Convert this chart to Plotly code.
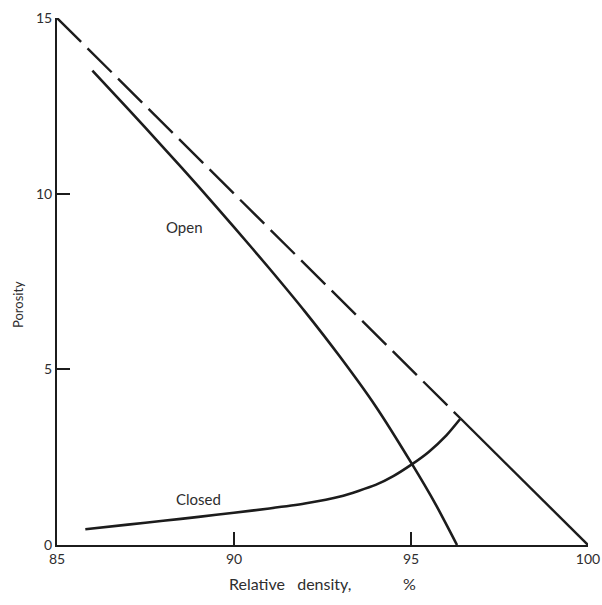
import plotly.graph_objects as go

# Relative density (%) vs porosity (%) for a sintered compact
open_x = [86.0, 87.0, 88.0, 89.0, 90.0, 91.0, 92.0, 93.0, 94.0, 95.0, 95.7, 96.3]
open_y = [13.5, 12.42, 11.32, 10.2, 9.05, 7.87, 6.65, 5.35, 3.95, 2.35, 1.15, 0.0]

closed_x = [85.8, 87.0, 88.0, 89.0, 90.0, 91.0, 92.0, 93.0, 94.0, 94.5, 95.0, 95.5, 96.0, 96.4]
closed_y = [0.45, 0.58, 0.69, 0.80, 0.92, 1.04, 1.18, 1.38, 1.71, 1.96, 2.28, 2.65, 3.12, 3.6]

# Total porosity = 100 - relative density
total_dashed_x = [85.0, 96.4]
total_dashed_y = [15.0, 3.6]
total_solid_x = [96.4, 100.0]
total_solid_y = [3.6, 0.0]

x_ticks = [85, 90, 95, 100]
y_ticks = [0, 5, 10, 15]

INK = "#1c1c1c"
TEXT = "#2e2e2e"
FONT = "Lato"

fig = go.Figure()
fig.add_trace(go.Scatter(x=total_dashed_x, y=total_dashed_y, mode="lines",
                         line=dict(color=INK, width=2.4, dash="34px,9px"),
                         showlegend=False, hoverinfo="skip"))
fig.add_trace(go.Scatter(x=total_solid_x, y=total_solid_y, mode="lines",
                         line=dict(color=INK, width=2.4),
                         showlegend=False, hoverinfo="skip"))
fig.add_trace(go.Scatter(x=open_x, y=open_y, mode="lines",
                         line=dict(color=INK, width=2.6, shape="spline", smoothing=0.6),
                         showlegend=False))
fig.add_trace(go.Scatter(x=closed_x, y=closed_y, mode="lines",
                         line=dict(color=INK, width=2.6, shape="spline", smoothing=0.6),
                         showlegend=False))

fig.add_annotation(x=88.6, y=9.05, text="Open", showarrow=False,
                   font=dict(family=FONT, size=15, color=TEXT))
fig.add_annotation(x=89.0, y=1.31, text="Closed", showarrow=False,
                   font=dict(family=FONT, size=15, color=TEXT))

# Axis titles
fig.add_annotation(x=91.58, xref="x", y=0, yref="paper", yshift=-38,
                   yanchor="middle", text="Relative&nbsp;&nbsp;&nbsp;density,",
                   showarrow=False, font=dict(family=FONT, size=16, color=TEXT))
fig.add_annotation(x=94.97, xref="x", y=0, yref="paper", yshift=-38,
                   yanchor="middle", text="%", showarrow=False,
                   font=dict(family=FONT, size=16, color=TEXT))
fig.add_annotation(x=0, xref="paper", xshift=-39, y=6.83, yref="y",
                   xanchor="center", yanchor="middle",
                   text="Porosity", textangle=-90, showarrow=False,
                   font=dict(family=FONT, size=13, color=TEXT))

axis_common = dict(showgrid=False, zeroline=False, showline=True,
                   linecolor=INK, linewidth=2, ticks="inside", ticklen=13,
                   tickwidth=1.6, tickcolor=INK, automargin=False,
                   tickfont=dict(family=FONT, size=14, color=TEXT))

fig.update_xaxes(range=[85, 100], tickvals=x_ticks,
                 ticktext=[str(v) for v in x_ticks], **axis_common)
fig.update_yaxes(range=[0, 15], tickvals=y_ticks,
                 ticktext=[str(v) for v in y_ticks], **axis_common)

fig.update_layout(width=602, height=605,
                  margin=dict(l=57, r=14, t=18, b=60),
                  plot_bgcolor="white", paper_bgcolor="white",
                  showlegend=False)

fig.write_html("out.html")
